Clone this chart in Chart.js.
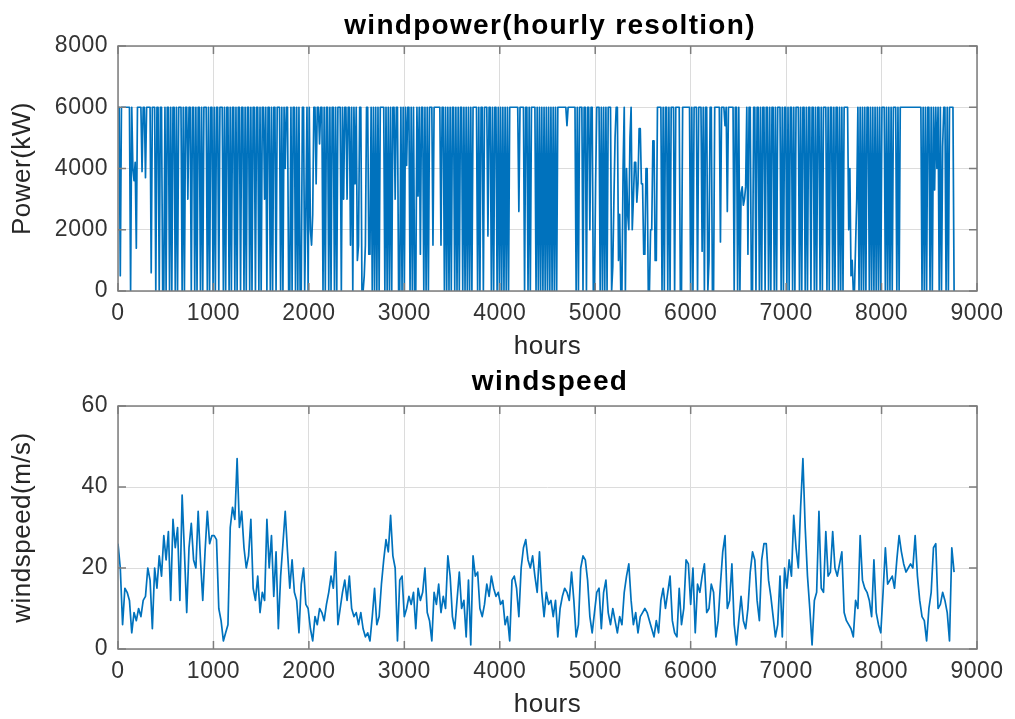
<!DOCTYPE html>
<html>
<head>
<meta charset="utf-8">
<script src="https://cdn.jsdelivr.net/npm/chart.js@4"></script>
<style>
html,body{margin:0;padding:0;background:#fff;}
#wrap{position:relative;width:1015px;height:719px;overflow:hidden;background:#fff;}
#c1{position:absolute;left:0;top:0;}
#c2{position:absolute;left:0;top:365px;}
</style>
</head>
<body>
<div id="wrap">
<canvas id="c1" width="1015" height="365"></canvas>
<canvas id="c2" width="1015" height="354"></canvas>
</div>
<script>
// ---------------- data ----------------
const powerStepHours = 12;   // one power sample every 12 h
const speedStepHours = 24;   // one wind-speed sample every 24 h
const hoursRange = [0, 9000];
const hoursStep = 1000;
const powerRange = [0, 8000];
const powerStep = 2000;
const speedRange = [0, 60];
const speedStep = 20;

const titlePower = 'windpower(hourly resoltion)';
const titleSpeed = 'windspeed';
const xLabel = 'hours';
const yLabelPower = 'Power(kW)';
const yLabelSpeed = 'windspeed(m/s)';

const windpowerKW = [
6000,6000,500,6000,6000,6000,6000,6000,6000,6000,
6000,0,6000,4000,3600,4200,1400,6000,6000,6000,
6000,3900,6000,6000,3700,6000,6000,6000,6000,600,
6000,6000,6000,0,6000,6000,0,6000,6000,0,
0,6000,0,6000,6000,0,6000,0,6000,6000,
0,6000,0,6000,6000,6000,0,6000,0,6000,
6000,3000,6000,6000,0,6000,6000,0,6000,0,
6000,6000,0,6000,0,6000,6000,6000,0,6000,
0,6000,6000,0,6000,0,6000,6000,0,6000,
6000,6000,0,6000,0,6000,6000,0,6000,0,
6000,6000,0,6000,0,6000,6000,0,6000,6000,
0,6000,0,6000,6000,0,6000,0,6000,6000,
0,6000,6000,0,6000,0,6000,6000,3000,6000,
0,6000,6000,0,6000,0,6000,6000,0,6000,
6000,6000,0,6000,0,6000,4000,6000,6000,0,
0,6000,0,6000,6000,0,6000,0,6000,0,
0,6000,6000,0,2500,6000,0,6000,2000,1500,
2500,6000,6000,3500,6000,6000,4800,6000,6000,0,
6000,0,6000,6000,0,6000,0,6000,6000,0,
6000,0,6000,6000,6000,0,6000,3000,6000,6000,
3000,6000,6000,1500,6000,0,6000,3500,6000,1000,
1500,6000,6000,0,0,500,1500,6000,6000,1200,
1200,6000,0,6000,0,6000,0,6000,0,6000,
6000,6000,6000,0,6000,0,6000,0,6000,0,
6000,6000,3000,6000,6000,0,0,6000,0,6000,
0,6000,4100,6000,6000,0,6000,0,6000,0,
0,6000,3100,6000,1200,6000,6000,0,6000,0,
6000,0,6000,6000,6000,1500,6000,6000,6000,6000,
6000,6000,1500,6000,6000,0,6000,0,6000,0,
6000,0,6000,6000,0,6000,0,6000,0,6000,
6000,0,6000,0,6000,0,6000,0,6000,0,
6000,6000,6000,6000,0,6000,0,6000,6000,0,
6000,6000,6000,1800,6000,6000,0,6000,0,6000,
6000,0,6000,0,6000,0,6000,0,6000,0,
6000,0,6000,6000,6000,6000,6000,6000,6000,6000,
2600,6000,6000,6000,6000,0,6000,6000,0,6000,
0,6000,6000,6000,6000,0,6000,0,6000,0,
6000,0,6000,0,6000,0,6000,0,6000,0,
6000,0,6000,0,6000,6000,6000,6000,6000,6000,
6000,6000,5400,6000,6000,6000,6000,6000,6000,6000,
0,6000,0,6000,6000,6000,0,6000,6000,0,
6000,6000,2000,6000,6000,0,0,3500,6000,6000,
6000,0,6000,0,6000,0,6000,0,6000,6000,
6000,0,800,3000,5000,6000,6000,1000,2500,0,
0,4000,6000,0,4000,2500,2000,5000,6000,2000,
3000,4200,4200,2900,3500,5300,5300,3500,3500,1200,
1200,4000,4000,0,0,2000,2000,4900,4900,1000,
1000,6000,6000,6000,6000,0,6000,0,6000,6000,
0,6000,0,6000,6000,6000,0,6000,6000,6000,
6000,0,0,6000,6000,6000,6000,6000,6000,6000,
0,6000,0,6000,6000,6000,0,6000,6000,6000,
1300,6000,0,6000,6000,0,1000,6000,6000,0,
0,6000,6000,6000,6000,6000,1600,6000,6000,6000,
5400,6000,2600,6000,6000,6000,6000,6000,0,6000,
6000,0,6000,0,3200,3400,2800,3000,3400,6000,
1200,6000,6000,0,0,6000,6000,0,6000,6000,
0,6000,0,6000,6000,0,6000,6000,0,6000,
0,6000,6000,0,6000,0,6000,6000,6000,0,
6000,0,6000,6000,0,6000,0,6000,6000,0,
6000,0,6000,6000,6000,0,6000,0,6000,6000,
0,6000,0,6000,6000,0,6000,6000,0,6000,
0,6000,6000,0,6000,0,6000,6000,6000,0,
6000,0,6000,6000,0,6000,0,6000,6000,0,
6000,0,6000,0,6000,6000,6000,6000,2000,4000,
500,1000,0,0,1500,3000,6000,0,6000,0,
6000,0,6000,0,6000,6000,0,6000,0,6000,
0,6000,0,6000,0,6000,0,6000,6000,6000,
0,6000,0,6000,0,6000,0,6000,6000,6000,
0,6000,0,6000,6000,6000,6000,6000,6000,6000,
6000,6000,6000,6000,6000,6000,6000,6000,6000,6000,
6000,6000,0,6000,0,6000,0,6000,6000,0,
6000,0,6000,3300,6000,4000,6000,0,6000,0,
4700,6000,6000,0,6000,0,6000,6000,6000,6000,
0
];

const windspeedMS = [
26,20,6,15,14,12,4,9,7,10,
8,12,13,20,17,5,20,15,23,18,
28,22,29,12,32,25,30,12,38,24,
9,25,31,22,20,34,22,12,24,34,
26,28,28,27,10,7,2,4,6,30,
35,32,47,30,34,25,20,23,32,15,
12,18,9,14,12,32,20,28,13,24,
5,18,26,34,24,15,22,14,12,4,
16,20,11,10,5,2,8,6,10,9,
7,11,14,18,15,24,6,10,14,17,
12,18,10,8,9,6,9,5,3,4,
2,8,15,6,8,16,22,27,24,33,
23,20,2,17,18,8,10,13,11,14,
5,15,12,14,20,9,7,2,14,11,
16,9,13,10,23,18,8,5,12,19,
10,12,3,17,1,23,18,19,10,8,
11,16,13,18,15,13,14,11,12,6,
8,2,17,18,15,8,20,25,27,22,
20,23,18,14,24,14,8,14,11,12,
8,12,3,10,13,15,14,12,19,12,
3,6,20,23,22,17,8,4,9,14,
15,5,14,17,9,6,10,7,4,8,
6,14,18,21,12,6,9,4,8,9,
10,9,7,5,3,7,4,12,15,10,
14,18,7,4,3,15,6,10,22,21,
11,20,4,16,14,18,21,9,10,16,
14,3,7,16,24,28,10,12,21,6,
1,7,13,7,5,10,19,24,22,12,
7,22,26,26,17,13,8,3,6,18,
3,20,15,22,18,33,25,20,35,47,
30,18,10,1,12,14,34,15,14,29,
18,19,29,20,18,21,24,9,7,6,
5,3,12,10,28,17,15,14,12,8,
22,9,6,4,14,25,16,17,18,15,
22,28,24,21,19,20,21,20,28,18,
12,8,7,2,10,14,25,26,10,11,
14,12,9,2,25,19
];

// ---------------- styling ----------------
const FONT = '"Liberation Sans", Arial, Helvetica, sans-serif';
const AXIS_COLOR = '#7d7d7d';
const GRID_COLOR = '#dcdcdc';
const TICK_COLOR = '#333333';
const LINE_COLOR = '#0072BD';

const matlabAxes = {
  id: 'matlabAxes',
  beforeDraw(chart) { chart.ctx.letterSpacing = '0.5px'; },
  afterDraw(chart, args, opts) {
    const {ctx, chartArea: a} = chart;
    const x = chart.scales.x, y = chart.scales.y;
    const tl = 8;
    ctx.save();
    ctx.strokeStyle = AXIS_COLOR;
    ctx.lineWidth = 1.5;
    ctx.beginPath();
    x.ticks.forEach(t => {
      const px = x.getPixelForValue(t.value);
      ctx.moveTo(px, a.bottom); ctx.lineTo(px, a.bottom - tl);
      ctx.moveTo(px, a.top); ctx.lineTo(px, a.top + tl);
    });
    y.ticks.forEach(t => {
      const py = y.getPixelForValue(t.value);
      ctx.moveTo(a.left, py); ctx.lineTo(a.left + tl, py);
      ctx.moveTo(a.right, py); ctx.lineTo(a.right - tl, py);
    });
    ctx.stroke();
    ctx.strokeRect(a.left, a.top, a.right - a.left, a.bottom - a.top);
    // title
    ctx.letterSpacing = '1.3px';
    ctx.font = 'bold 28px ' + FONT;
    ctx.fillStyle = '#000';
    ctx.textAlign = 'center';
    ctx.textBaseline = 'middle';
    ctx.fillText(opts.text, opts.cx, opts.cy);
    ctx.restore();
  }
};

function makeChart(canvasId, values, stepHours, lineWidth, yRange, yStep, yTitle, title, titleY, padTop, xAxisHeight, xTitlePad) {
  const pts = values.map((v, i) => ({x: i * stepHours, y: v}));
  return new Chart(document.getElementById(canvasId), {
    type: 'line',
    data: { datasets: [{
      data: pts,
      borderColor: LINE_COLOR,
      borderWidth: lineWidth,
      pointRadius: 0,
      tension: 0,
      fill: false,
      borderJoinStyle: 'round'
    }]},
    options: {
      responsive: false,
      animation: false,
      events: [],
      layout: { padding: { left: 0, right: 38, top: padTop, bottom: 0 } },
      plugins: {
        legend: { display: false },
        tooltip: { enabled: false },
        title: { display: false },
        matlabAxes: { text: title, cx: 550, cy: titleY }
      },
      scales: {
        x: {
          type: 'linear',
          min: hoursRange[0], max: hoursRange[1],
          ticks: { stepSize: hoursStep, autoSkip: false, maxRotation: 0, color: TICK_COLOR,
                   font: { family: FONT, size: 23 }, padding: 9, callback: v => String(v) },
          grid: { color: GRID_COLOR, lineWidth: 1, drawTicks: false },
          border: { display: false },
          title: { display: true, text: xLabel, color: '#262626',
                   font: { family: FONT, size: 26, lineHeight: 1 }, padding: { top: 0, bottom: xTitlePad } },
          afterFit(s) { s.height = xAxisHeight; }
        },
        y: {
          type: 'linear',
          min: yRange[0], max: yRange[1],
          ticks: { stepSize: yStep, color: TICK_COLOR, font: { family: FONT, size: 23 }, padding: 10,
                   callback: v => String(v) },
          grid: { color: GRID_COLOR, lineWidth: 1, drawTicks: false },
          border: { display: false },
          title: { display: true, text: yTitle, color: '#262626',
                   font: { family: FONT, size: 26, lineHeight: 1 }, padding: { top: 10, bottom: 0 } },
          afterFit(s) { s.width = 118; }
        }
      }
    },
    plugins: [matlabAxes]
  });
}

makeChart('c1', windpowerKW, powerStepHours, 1.7, powerRange, powerStep, yLabelPower, titlePower, 26, 46, 74, 5);
makeChart('c2', windspeedMS, speedStepHours, 1.7, speedRange, speedStep, yLabelSpeed, titleSpeed, 17, 41, 70, 1);
</script>
</body>
</html>
